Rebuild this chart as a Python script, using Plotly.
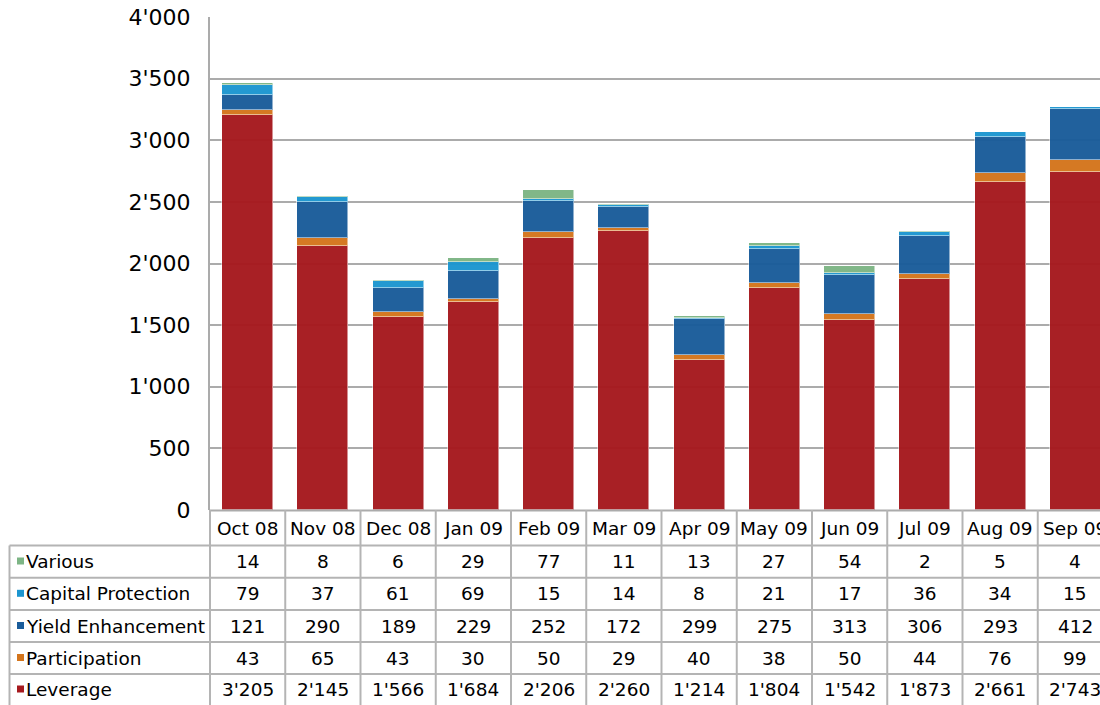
import plotly.graph_objects as go

months = ["Oct 08", "Nov 08", "Dec 08", "Jan 09", "Feb 09", "Mar 09", "Apr 09",
          "May 09", "Jun 09", "Jul 09", "Aug 09", "Sep 09"]
leverage = [3205, 2145, 1566, 1684, 2206, 2260, 1214, 1804, 1542, 1873, 2661, 2743]
participation = [43, 65, 43, 30, 50, 29, 40, 38, 50, 44, 76, 99]
yield_enh = [121, 290, 189, 229, 252, 172, 299, 275, 313, 306, 293, 412]
capital_prot = [79, 37, 61, 69, 15, 14, 8, 21, 17, 36, 34, 15]
various = [14, 8, 6, 29, 77, 11, 13, 27, 54, 2, 5, 4]

series = [
    ("Leverage", leverage, "#A6191E"),
    ("Participation", participation, "#D4751C"),
    ("Yield Enhancement", yield_enh, "#1A5C9A"),
    ("Capital Protection", capital_prot, "#1C96D0"),
    ("Various", various, "#7DB585"),
]
table_order = ["Various", "Capital Protection", "Yield Enhancement", "Participation", "Leverage"]

def fmt(v):
    return f"{v:,}".replace(",", "'")

W, H = 1100, 705
ML, MT, MB = 210, 17, 195
plot_h = H - MT - MB  # 493
plot_w = W - ML
FONT = "DejaVu Sans, Verdana, sans-serif"
GRID = "#ABABAB"
BORDER = "#B4B4B4"
TS = 18.5

def py(pix):
    return (H - MB - pix) / plot_h

def px(pix):
    return (pix - ML) / plot_w

x = list(range(len(months)))
fig = go.Figure()
for name, vals, col in series:
    fig.add_trace(go.Bar(
        x=x, y=vals, name=name, width=0.68,
        marker=dict(color=col, opacity=0.97, line=dict(color="rgba(255,255,255,0.5)", width=1)),
        showlegend=False,
    ))

col_w = 75.25
x_max = -0.5 + plot_w / col_w

shapes = []
shapes.append(dict(type="line", xref="paper", yref="paper", x0=0, x1=1, y0=py(510.5), y1=py(510.5),
                   line=dict(color=GRID, width=2)))
row_lines = [545.5, 577.7, 610, 641.9, 674]
x_left_paper = px(9.5)
for yl in row_lines:
    shapes.append(dict(type="line", xref="paper", yref="paper", x0=x_left_paper, x1=1,
                       y0=py(yl), y1=py(yl), line=dict(color=BORDER, width=2)))
shapes.append(dict(type="line", xref="paper", yref="paper", x0=x_left_paper, x1=x_left_paper,
                   y0=py(545.5), y1=py(705), line=dict(color=BORDER, width=2)))
shapes.append(dict(type="line", xref="paper", yref="paper", x0=0, x1=0,
                   y0=py(510), y1=py(705), line=dict(color=BORDER, width=2)))
for i in range(len(months)):
    xs = i + 0.5
    shapes.append(dict(type="line", xref="x", yref="paper", x0=xs, x1=xs,
                       y0=py(510), y1=py(705), line=dict(color=BORDER, width=2)))

annotations = []
header_y = py(528)
for i, m in enumerate(months):
    annotations.append(dict(x=i, y=header_y, xref="x", yref="paper", text=m, showarrow=False,
                            font=dict(family=FONT, size=TS, color="#000"), xanchor="center", yanchor="middle"))
row_centers = [561.5, 593.8, 626, 658, 689.5]
lookup = {n: (v, c) for n, v, c in series}
for r, name in enumerate(table_order):
    vals, col = lookup[name]
    yc_pix = row_centers[r]
    yc = py(yc_pix)
    shapes.append(dict(type="rect", xref="paper", yref="paper",
                       x0=px(17), x1=px(24), y0=py(yc_pix - 4), y1=py(yc_pix + 3),
                       fillcolor=col, line=dict(width=0)))
    annotations.append(dict(x=px(23.5), y=yc, xref="paper", yref="paper",
                            text=name,
                            showarrow=False, xanchor="left", yanchor="middle",
                            font=dict(family=FONT, size=TS, color="#000")))
    for i, v in enumerate(vals):
        annotations.append(dict(x=i, y=yc, xref="x", yref="paper", text=fmt(v), showarrow=False,
                                xanchor="center", yanchor="middle",
                                font=dict(family=FONT, size=TS, color="#000")))

ytv = [0, 500, 1000, 1500, 2000, 2500, 3000, 3500, 4000]
fig.update_layout(
    width=W, height=H,
    margin=dict(l=ML, r=0, t=MT, b=MB, pad=0),
    barmode="stack",
    bargap=0,
    plot_bgcolor="white", paper_bgcolor="white",
    shapes=shapes, annotations=annotations,
    xaxis=dict(range=[-0.5, x_max], showticklabels=False, showgrid=False, zeroline=False,
               showline=False, fixedrange=True),
    yaxis=dict(range=[0, 4000], tickvals=ytv, ticktext=[fmt(v) for v in ytv],
               showgrid=True, gridcolor=GRID, gridwidth=2, zeroline=False,
               showline=True, linecolor=GRID, linewidth=2,
               ticks="", ticklabelstandoff=13,
               tickfont=dict(family=FONT, size=22, color="#000")),
    font=dict(family=FONT),
)

fig.write_html("out.html")
